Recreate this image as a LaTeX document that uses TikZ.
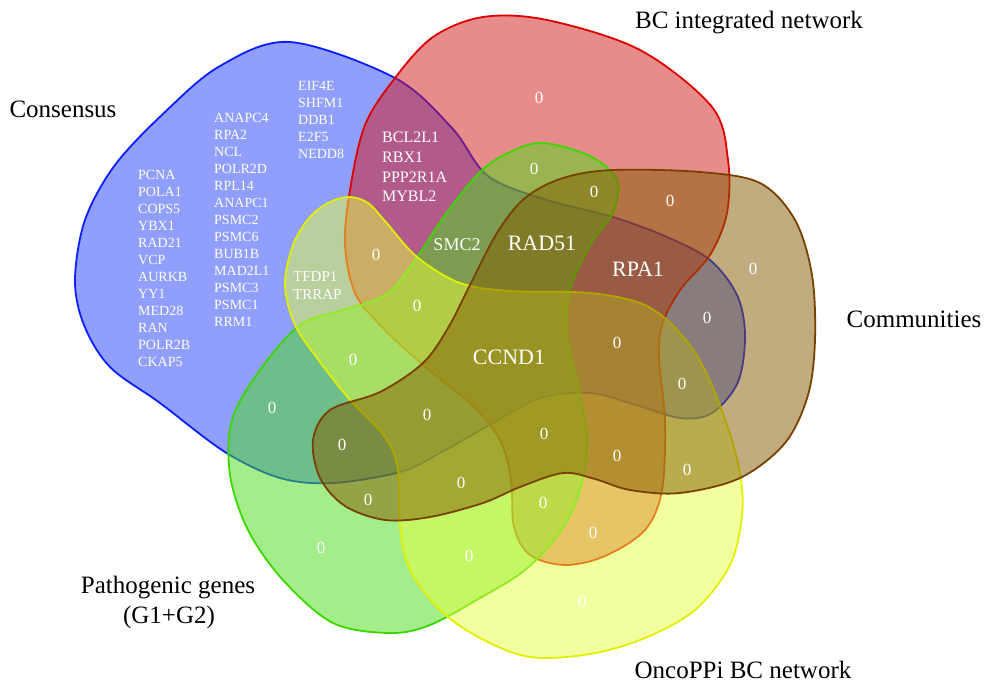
\documentclass[tikz,border=0pt]{standalone}
\usepackage{fontspec}
\setmainfont{Liberation Serif}
\definecolor{bluefill}{RGB}{37,65,251}
\definecolor{blueline}{RGB}{10,30,255}
\definecolor{redfill}{RGB}{211,25,25}
\definecolor{redline}{RGB}{220,0,0}
\definecolor{greenfill}{RGB}{75,221,25}
\definecolor{greenline}{RGB}{60,215,0}
\definecolor{yellowfill}{RGB}{228,255,65}
\definecolor{yellowline}{RGB}{225,240,0}
\definecolor{brownfill}{RGB}{131,91,0}
\definecolor{brownline}{RGB}{120,65,0}
\begin{document}
\begin{tikzpicture}[x=1pt,y=-1pt,
  setshape/.style={line width=1.8pt, fill opacity=0.5, draw opacity=1},
  catlabel/.style={text=black, inner sep=0pt, anchor=base, font=\fontsize{25}{29}\selectfont, align=center},
  genelist/.style={text=white, inner sep=0pt, anchor=north west, align=left, font=\fontsize{14}{17}\selectfont},
  biglabel/.style={text=white, inner sep=0pt, font=\fontsize{22}{22}\selectfont},
  zerolab/.style={text=white, inner sep=0pt, font=\fontsize{17}{17}\selectfont}]
\useasboundingbox (0,0) rectangle (987,697);
\fill[white] (0,0) rectangle (987,697);
% Consensus (blue)
\filldraw[setshape, draw=blueline, fill=bluefill] plot[smooth cycle, tension=0.55] coordinates {
(290,42) (395,78) (452,128) (488,176) (547,200) (613,217) (667,237) (710,260) (737,295) (745,335) (738,382) (712,413) (680,418) (633,404) (590,393) (540,398) (493,423) (440,453) (400,472) (333,483) (280,478) (225,452) (160,403) (110,367) (84,325) (75,280) (85,220) (115,165) (165,112) (220,66)};
% BC integrated network (red)
\filldraw[setshape, draw=redline, fill=redfill] plot[smooth cycle, tension=0.55] coordinates {
(483,17) (547,20) (640,50) (712,107) (728,160) (727,213) (710,255) (680,290) (662,325) (659,360) (665,420) (662,490) (645,530) (605,556) (565,565) (530,555) (514,527) (511,480) (500,440) (472,405) (423,365) (380,325) (355,293) (345,245) (350,190) (365,125) (395,78) (433,37)};
% Pathogenic genes (green)
\filldraw[setshape, draw=greenline, fill=greenfill] plot[smooth cycle, tension=0.55] coordinates {
(543,143) (590,156) (617,180) (613,213) (590,245) (570,290) (567,335) (578,385) (587,440) (580,490) (560,532) (525,570) (480,598) (430,625) (390,633) (333,623) (283,580) (248,530) (230,475) (232,420) (260,370) (300,325) (340,311) (385,295) (415,260) (445,215) (480,172) (510,152)};
% OncoPPi BC network (yellow)
\filldraw[setshape, draw=yellowline, fill=yellowfill] plot[smooth cycle, tension=0.55] coordinates {
(350,197) (368,203) (385,221) (417,257) (460,283) (510,291) (590,293) (645,305) (680,333) (705,370) (727,425) (740,473) (742,515) (730,565) (695,610) (645,638) (590,654) (530,657) (480,638) (440,610) (410,570) (400,527) (398,470) (385,437) (350,400) (320,362) (295,325) (285,285) (293,245) (310,217) (330,202)};
% Communities (brown)
\filldraw[setshape, draw=brownline, fill=brownfill] plot[smooth cycle, tension=0.55] coordinates {
(613,170) (700,172) (760,183) (795,220) (812,275) (815,340) (808,395) (785,443) (740,478) (680,493) (630,490) (595,479) (563,473) (520,487) (483,503) (430,517) (385,520) (345,506) (320,478) (313,440) (330,410) (380,392) (423,363) (448,328) (470,285) (497,233) (525,198) (563,178)};
% category labels
\node[catlabel] (lcon) at (63,117) {Consensus};
\node[catlabel] (lbc) at (749,28) {BC integrated network};
\node[catlabel] (lcom) at (914,327) {Communities};
\node[catlabel] (lpat) at (168,593) {Pathogenic genes};
\node[catlabel] (lpat2) at (169,623) {(G1+G2)};
\node[catlabel] (lonc) at (743,678) {OncoPPi BC network};
% gene lists
\node[genelist] (g1) at (138,170) {PCNA\\POLA1\\COPS5\\YBX1\\RAD21\\VCP\\AURKB\\YY1\\MED28\\RAN\\POLR2B\\CKAP5};
\node[genelist] (g2) at (214,113) {ANAPC4\\RPA2\\NCL\\POLR2D\\RPL14\\ANAPC1\\PSMC2\\PSMC6\\BUB1B\\MAD2L1\\PSMC3\\PSMC1\\RRM1};
\node[genelist] (g3) at (298,81) {EIF4E\\SHFM1\\DDB1\\E2F5\\NEDD8};
\node[genelist, font=\fontsize{16}{19.7}\selectfont] (g4) at (382,132) {BCL2L1\\RBX1\\PPP2R1A\\MYBL2};
\node[genelist, font=\fontsize{15}{18}\selectfont] (g5) at (293,271) {TFDP1\\TRRAP};
\node[biglabel, font=\fontsize{18}{18}\selectfont] (smc2) at (457,245) {SMC2};
\node[biglabel] (rad51) at (542,243) {RAD51};
\node[biglabel] (rpa1) at (638,269) {RPA1};
\node[biglabel] (ccnd1) at (509,357) {CCND1};
% zeros
\node[zerolab] (z1) at (539,98) {0};
\node[zerolab] (z2) at (534,169) {0};
\node[zerolab] (z3) at (594,192) {0};
\node[zerolab] (z4) at (670,201) {0};
\node[zerolab] (z5) at (753,269) {0};
\node[zerolab] (z6) at (707,318) {0};
\node[zerolab] (z7) at (617,343) {0};
\node[zerolab] (z8) at (682,384) {0};
\node[zerolab] (z9) at (376,255) {0};
\node[zerolab] (z10) at (417,306) {0};
\node[zerolab] (z11) at (353,360) {0};
\node[zerolab] (z12) at (272,408) {0};
\node[zerolab] (z13) at (427,415) {0};
\node[zerolab] (z14) at (342,445) {0};
\node[zerolab] (z15) at (544,434) {0};
\node[zerolab] (z16) at (617,456) {0};
\node[zerolab] (z17) at (687,470) {0};
\node[zerolab] (z18) at (368,500) {0};
\node[zerolab] (z19) at (461,483) {0};
\node[zerolab] (z20) at (543,503) {0};
\node[zerolab] (z21) at (593,533) {0};
\node[zerolab] (z22) at (321,548) {0};
\node[zerolab] (z23) at (469,556) {0};
\node[zerolab] (z24) at (582,602) {0};
\end{tikzpicture}
\end{document}
